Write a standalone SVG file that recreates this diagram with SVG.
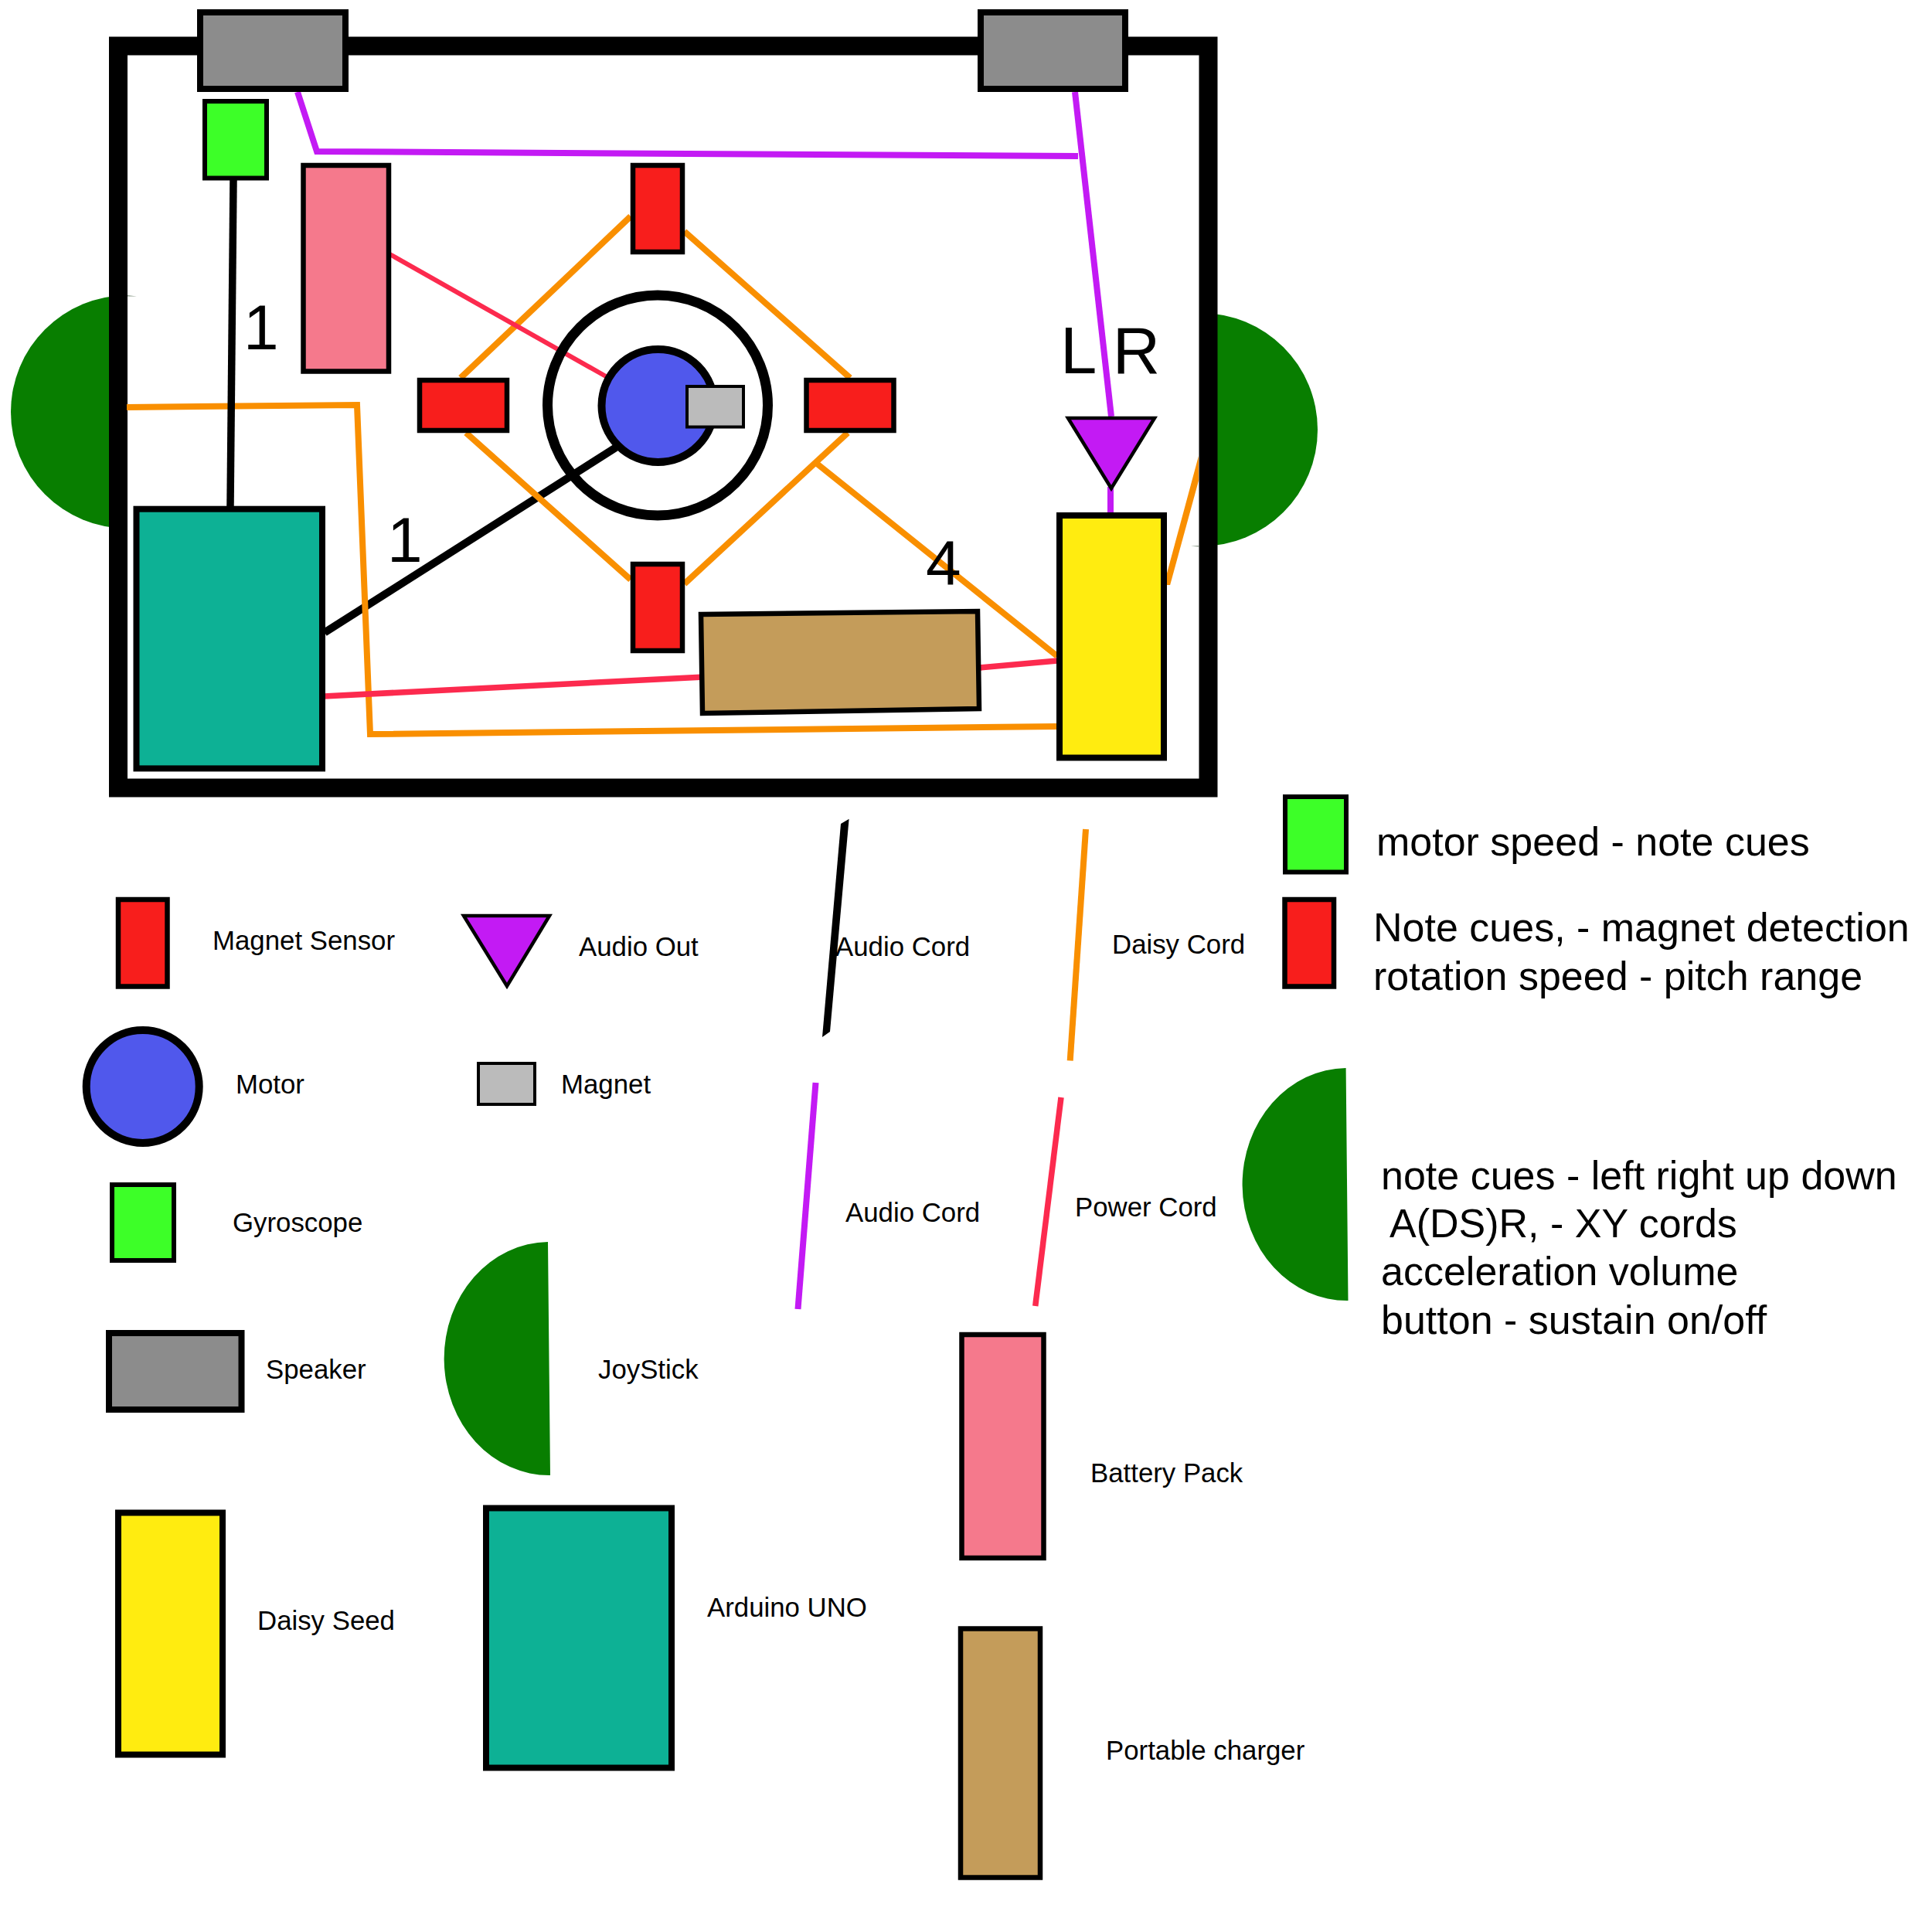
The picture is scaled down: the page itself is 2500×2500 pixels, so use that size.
<svg xmlns="http://www.w3.org/2000/svg" width="2500" height="2500" viewBox="0 0 2500 2500">
<style>
.sensor{fill:#f81e1c;stroke:#000;stroke-width:6.5}
.gyro{fill:#3dff28;stroke:#000;stroke-width:6}
.speaker{fill:#8c8c8c;stroke:#000;stroke-width:8}
.battery{fill:#f5798c;stroke:#000;stroke-width:6.5}
.arduino{fill:#0db195;stroke:#000;stroke-width:8}
.daisy{fill:#ffec10;stroke:#000;stroke-width:8}
.charger{fill:#c49c5a;stroke:#000;stroke-width:6.5}
.motor{fill:#5058ec;stroke:#000;stroke-width:10}
.magnet{fill:#bbb;stroke:#000;stroke-width:4}
.out{fill:#c31af4;stroke:#000;stroke-width:4.5;stroke-linejoin:miter}
.joy{fill:#087e00}
.w{fill:none;stroke-linejoin:miter}
.org{stroke:#f98f00;stroke-width:8}
.pur{stroke:#c31af4;stroke-width:8}
.red{stroke:#fc2a4e;stroke-width:7.5}
.blk{stroke:#000;stroke-width:10}
text{font-family:"Liberation Sans",Arial,sans-serif;fill:#000}
.s{font-size:34.800px}
.m{font-size:52px}
.b{font-size:82px}
</style>
<g id="joystick-left"><path class="joy" d="M165,382 A150,150 0 0 0 165,684 Z"/></g>
<g id="joystick-right"><path class="joy" d="M1554,405 A150,150 0 0 1 1554,707 Z"/></g>
<g id="enclosure"><rect x="153" y="59.500" width="1410.500" height="960" fill="#fff" stroke="#000" stroke-width="24"/><path fill="#8a9a88" d="M165,382 L177,383.500 L165,383.500 Z"/><path fill="#8a9a88" d="M1551,706 L1541,706.800 L1551,707.500 Z"/></g>
<g id="connectors">
<path class="w blk" d="M420,818.500 L797,579"/>
<path class="w org" d="M164,527 L462,524 L479,950 L1367,940"/>
<path class="w org" d="M816,280 L596,489"/>
<path class="w org" d="M603,560 L816,750"/>
<path class="w org" d="M885.600,299.400 L1100,489"/>
<path class="w org" d="M885.600,755.500 L1097,560"/>
<path class="w org" d="M1054,597.500 L1368,849"/>
<polygon fill="#f98f00" points="1505.900,757 1514.100,757 1551,622 1551,590"/>
<path class="w blk" style="stroke-width:9.500" d="M302,233 L298,655"/>
<path class="w red" style="stroke-width:6" d="M501,327 L784,487"/>
<path class="w red" d="M419,901 L911,876"/>
<path class="w red" d="M1268,864 L1368,855"/>
<path class="w pur" d="M385,119 L410,196 L1395,202"/>
<path class="w pur" d="M1391,119 L1438,539"/>
<path class="w pur" d="M1437,630 L1437,665"/>
</g>
<g id="speaker-1"><rect class="speaker" x="259" y="16" width="188" height="99"/></g>
<g id="speaker-2"><rect class="speaker" x="1269" y="16" width="187" height="99"/></g>
<g id="gyroscope"><rect class="gyro" x="265" y="131" width="80" height="99.500"/></g>
<g id="battery"><rect class="battery" x="392.500" y="214" width="110.500" height="266.500"/></g>
<g id="sensor-top"><rect class="sensor" x="819" y="214" width="64" height="112"/></g>
<g id="sensor-bottom"><rect class="sensor" x="819" y="730" width="64" height="112"/></g>
<g id="sensor-left"><rect class="sensor" x="543" y="492" width="113" height="65"/></g>
<g id="sensor-right"><rect class="sensor" x="1043.500" y="492" width="113" height="65"/></g>
<g id="rotor-ring"><circle cx="851" cy="524.500" r="142.500" fill="none" stroke="#000" stroke-width="13"/></g>
<g id="motor"><circle class="motor" cx="851.500" cy="525" r="73"/></g>
<g id="magnet"><rect class="magnet" x="889" y="500" width="73" height="52.500"/></g>
<g id="arduino"><rect class="arduino" x="176.500" y="658.700" width="240.500" height="335.700"/></g>
<g id="charger"><polygon class="charger" points="907,795 1265,791 1267,917 909,923"/></g>
<g id="daisy"><rect class="daisy" x="1371" y="667" width="135" height="313.500"/></g>
<g id="audio-out"><polygon class="out" points="1382,541 1494,541 1438,632"/></g>
<g id="wire-labels">
<text class="b" x="315" y="452">1</text>
<text class="b" x="501" y="727">1</text>
<text class="b" x="1198" y="757">4</text>
<text class="b" style="font-size:85px" x="1372" y="483">L R</text>
</g>

<g id="legend-sensor"><rect class="sensor" x="153" y="1164" width="63.500" height="112.500"/><text class="s" x="275" y="1229">Magnet Sensor</text></g>
<g id="legend-motor"><circle class="motor" cx="184.700" cy="1406" r="73"/><text class="s" x="305" y="1415">Motor</text></g>
<g id="legend-gyro"><rect class="gyro" x="145" y="1533" width="80" height="98"/><text class="s" x="301" y="1594">Gyroscope</text></g>
<g id="legend-speaker"><rect class="speaker" x="141" y="1725" width="171.500" height="99"/><text class="s" x="344" y="1784">Speaker</text></g>
<g id="legend-daisy"><rect class="daisy" x="153" y="1957.500" width="135" height="313"/><text class="s" x="333" y="2108.500">Daisy Seed</text></g>
<g id="legend-out"><polygon class="out" points="600,1185 711,1185 656,1276"/><text class="s" x="749" y="1237">Audio Out</text></g>
<g id="legend-magnet"><rect class="magnet" x="619" y="1376" width="73" height="53"/><text class="s" x="726" y="1415">Magnet</text></g>
<g id="legend-joystick"><path class="joy" d="M709,1607 A135,150 0 0 0 712,1909 Z"/><text class="s" x="774" y="1784">JoyStick</text></g>
<g id="legend-arduino"><rect class="arduino" x="629" y="1951.500" width="240" height="336"/><text class="s" x="915" y="2092">Arduino UNO</text></g>
<g id="legend-audio-cord-1"><polygon points="1098.600,1059.700 1088,1066 1064,1342 1074,1335" fill="#000"/><text class="s" x="1081" y="1236.500">Audio Cord</text></g>
<g id="legend-daisy-cord"><path class="w org" d="M1405,1073 L1384.700,1372.600"/><text class="s" x="1439" y="1234">Daisy Cord</text></g>
<g id="legend-audio-cord-2"><path class="w pur" d="M1055.500,1401 L1032.500,1694"/><text class="s" x="1094" y="1581">Audio Cord</text></g>
<g id="legend-power-cord"><path class="w red" d="M1373,1420 L1339.700,1690"/><text class="s" x="1391" y="1574">Power Cord</text></g>
<g id="legend-battery"><rect class="battery" x="1244.500" y="1727" width="106" height="289"/><text class="s" x="1411" y="1918">Battery Pack</text></g>
<g id="legend-charger"><rect class="charger" x="1243" y="2107.500" width="103" height="322"/><text class="s" x="1431" y="2276.500">Portable charger</text></g>
<g id="note-gyro"><rect class="gyro" x="1663" y="1031" width="79" height="97.500"/><text class="m" x="1781" y="1106.500">motor speed - note cues</text></g>
<g id="note-sensor"><rect class="sensor" x="1662.500" y="1164" width="63.500" height="112.500"/><text class="m" x="1777" y="1218">Note cues, - magnet detection</text><text class="m" x="1777" y="1281">rotation speed - pitch range</text></g>
<g id="note-joystick"><path class="joy" d="M1741.600,1382 A135,150 0 0 0 1744.500,1683 Z"/><text class="m" x="1787" y="1538.500">note cues - left right up down</text><text class="m" x="1798" y="1601">A(DS)R, - XY cords</text><text class="m" x="1787" y="1663">acceleration volume</text><text class="m" x="1787" y="1726">button - sustain on/off</text></g>
</svg>
